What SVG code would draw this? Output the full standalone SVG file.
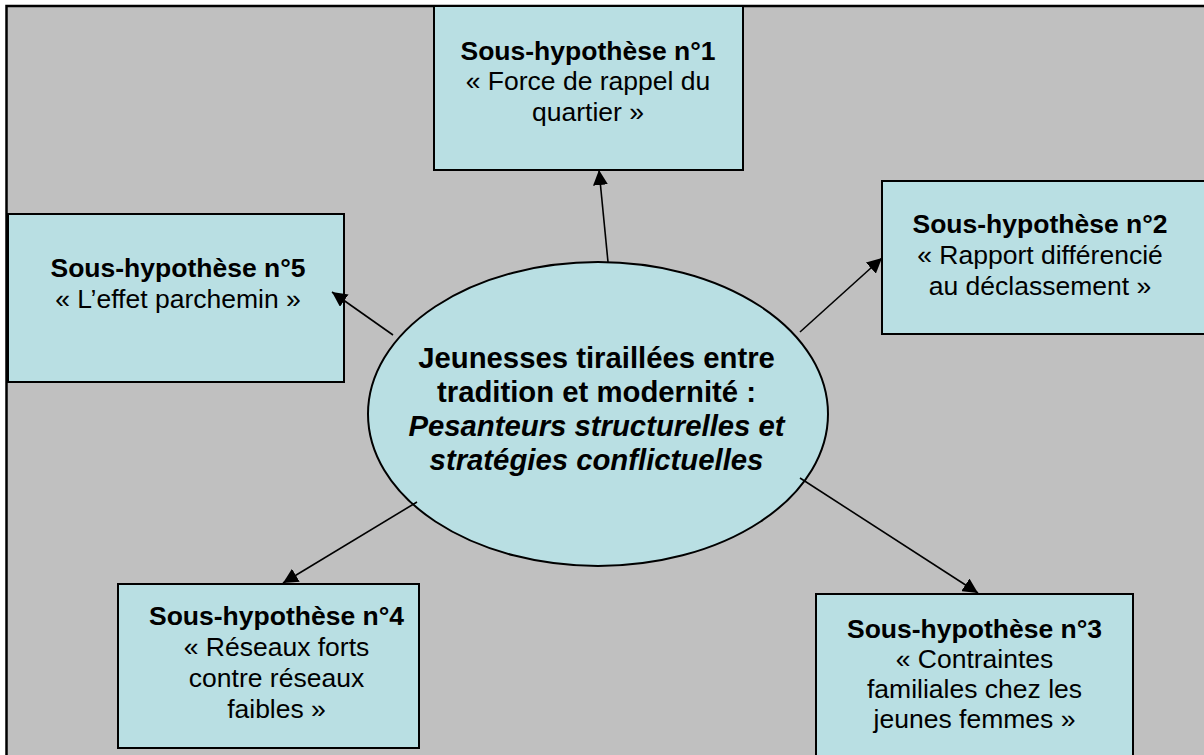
<svg xmlns="http://www.w3.org/2000/svg" width="1204" height="755" viewBox="0 0 1204 755">
<defs>
<style>
.frame{fill:#C0C0C0;stroke:#000;stroke-width:2.5}
.box{fill:#B9DFE3;stroke:#000;stroke-width:2}
.t{font-family:"Liberation Sans",Arial,sans-serif;font-size:26.5px;fill:#000;text-anchor:middle}
.b{font-weight:bold}
.c{font-family:"Liberation Sans",Arial,sans-serif;font-size:29.3px;font-weight:bold;fill:#000;text-anchor:middle}
.i{font-style:italic}
.conn{stroke:#000;stroke-width:1.6;fill:none;marker-end:url(#arr)}
</style>
<marker id="arr" markerUnits="userSpaceOnUse" markerWidth="15" markerHeight="15" refX="15" refY="7.5" orient="auto">
<path d="M0,0 L15,7.5 L0,15 z" fill="#000"/>
</marker>
</defs>
<rect x="0" y="0" width="1204" height="755" fill="#fff"/>
<rect class="frame" x="6.5" y="6" width="1210" height="770"/>
<g id="center">
<ellipse class="box" cx="598" cy="414" rx="230" ry="152"/>
<text class="c" x="596.5" y="368">Jeunesses tiraillées entre</text>
<text class="c" x="596.5" y="402">tradition et modernité :</text>
<text class="c i" x="596.5" y="436">Pesanteurs structurelles et</text>
<text class="c i" x="596.5" y="470">stratégies conflictuelles</text>
</g>
<g id="sh1">
<rect class="box" x="434" y="6" width="309" height="164"/>
<text class="t b" x="588" y="59.5">Sous-hypothèse n°1</text>
<text class="t" x="588" y="90">« Force de rappel du</text>
<text class="t" x="588" y="120.5">quartier »</text>
</g>
<g id="sh2">
<rect class="box" x="882" y="181" width="340" height="153"/>
<text class="t b" x="1040" y="233">Sous-hypothèse n°2</text>
<text class="t" x="1040" y="264">« Rapport différencié</text>
<text class="t" x="1040" y="295">au déclassement »</text>
</g>
<g id="sh3">
<rect class="box" x="816" y="594" width="317" height="180"/>
<text class="t b" x="974.5" y="638">Sous-hypothèse n°3</text>
<text class="t" x="974.5" y="668">« Contraintes</text>
<text class="t" x="974.5" y="698">familiales chez les</text>
<text class="t" x="974.5" y="728">jeunes femmes »</text>
</g>
<g id="sh4">
<rect class="box" x="118" y="584" width="301" height="164"/>
<text class="t b" x="276.5" y="625">Sous-hypothèse n°4</text>
<text class="t" x="276.5" y="656">« Réseaux forts</text>
<text class="t" x="276.5" y="687">contre réseaux</text>
<text class="t" x="276.5" y="718">faibles »</text>
</g>
<g id="sh5">
<rect class="box" x="8" y="214" width="336" height="168"/>
<text class="t b" x="178" y="277">Sous-hypothèse n°5</text>
<text class="t" x="178" y="308">« L’effet parchemin »</text>
</g>
<g id="connectors">
<line class="conn" x1="608" y1="262" x2="599" y2="170"/>
<line class="conn" x1="800" y1="332" x2="882" y2="258"/>
<line class="conn" x1="393" y1="335" x2="332" y2="292"/>
<line class="conn" x1="417" y1="502" x2="283" y2="583"/>
<line class="conn" x1="800" y1="478" x2="978" y2="593"/>
</g>
</svg>
